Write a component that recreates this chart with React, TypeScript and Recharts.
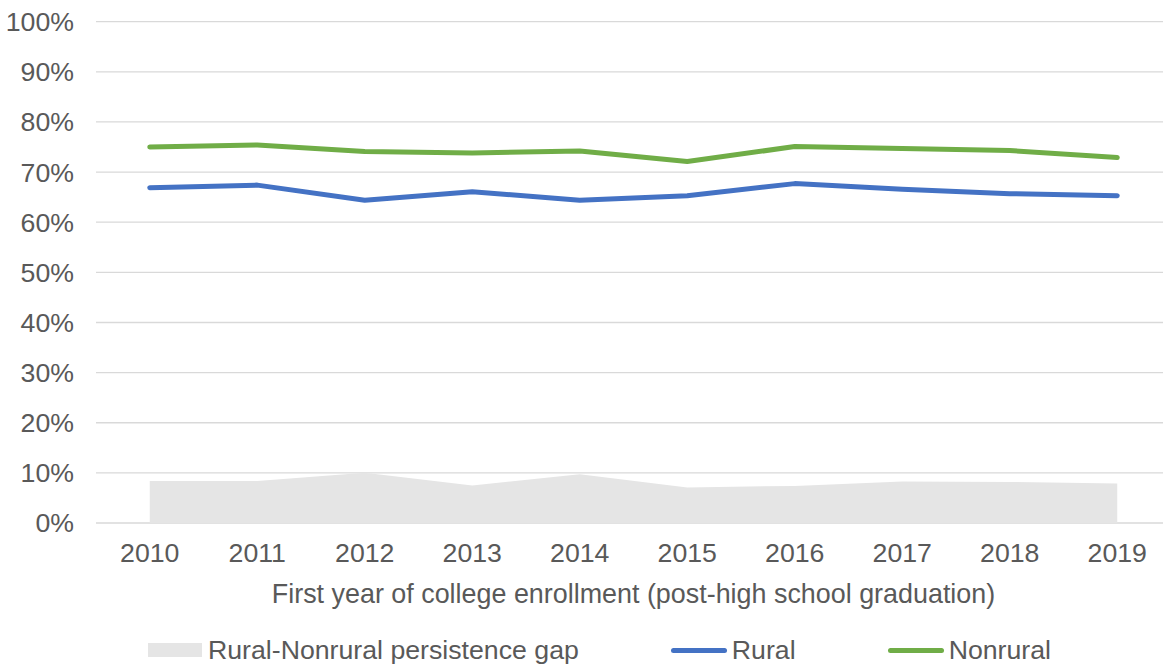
import React from 'react';
import { ComposedChart, Area, Line, XAxis, YAxis, CartesianGrid, Legend } from 'recharts';

const years = ['2010', '2011', '2012', '2013', '2014', '2015', '2016', '2017', '2018', '2019'];
const rural = [66.9, 67.4, 64.4, 66.1, 64.4, 65.3, 67.7, 66.6, 65.7, 65.3];
const nonrural = [75.0, 75.4, 74.1, 73.8, 74.2, 72.1, 75.1, 74.7, 74.3, 72.9];
const gap = [8.4, 8.4, 10.0, 7.5, 9.7, 7.1, 7.4, 8.3, 8.2, 7.9];
const yTicks = [0, 10, 20, 30, 40, 50, 60, 70, 80, 90, 100];

const data = years.map((y, i) => ({ year: y, gap: gap[i], rural: rural[i], nonrural: nonrural[i] }));

const FONT = '"Liberation Sans", Arial, sans-serif';
const FS = 26.7;
const TEXT = '#595959';
const BLUE = '#4472C4';
const GREEN = '#70AD47';
const GRAY = '#E5E5E5';

const legendItems = [
  { label: 'Rural-Nonrural persistence gap', kind: 'rect', color: GRAY },
  { label: 'Rural', kind: 'line', color: BLUE },
  { label: 'Nonrural', kind: 'line', color: GREEN },
];

const renderLegend = () => (
  <div
    style={{
      height: 62,
      boxSizing: 'border-box',
      paddingTop: 32,
      paddingLeft: 148,
      display: 'flex',
      alignItems: 'center',
      fontFamily: FONT,
      fontSize: FS,
      color: TEXT,
      gap: 92,
    }}
  >
    {legendItems.map((it) => (
      <div key={it.label} style={{ display: 'flex', alignItems: 'center', height: 30, whiteSpace: 'nowrap' }}>
        {it.kind === 'rect' ? (
          <div style={{ width: 54, height: 14, background: it.color, marginRight: 6 }} />
        ) : (
          <div style={{ width: 56, height: 5, borderRadius: 3, background: it.color, marginRight: 5 }} />
        )}
        <span style={{ lineHeight: '30px' }}>{it.label}</span>
      </div>
    ))}
  </div>
);

const axisTitle = (props: any) => {
  const vb = props.viewBox || {};
  return (
    <text
      x={vb.x + vb.width / 2}
      y={602.5}
      textAnchor="middle"
      fill={TEXT}
      fontSize={26.9}
      fontFamily={FONT}
    >
      First year of college enrollment (post-high school graduation)
    </text>
  );
};

export default function App() {
  return (
    <div style={{ position: 'absolute', left: 0, top: 0, width: 1163, height: 665, overflow: 'hidden', background: '#fff' }}>
      <ComposedChart
        width={1171}
        height={665}
        data={data}
        margin={{ top: 21.7, right: 0, bottom: 0, left: 0 }}
      >
        <CartesianGrid vertical={false} stroke="#D9D9D9" strokeWidth={1.3} />
        <XAxis
          dataKey="year"
          axisLine={false}
          tickLine={false}
          tickSize={0}
          tickMargin={20}
          height={80}
          interval={0}
          padding={{ left: 53.75, right: 53.75 }}
          tick={{ fill: TEXT, fontSize: FS, fontFamily: FONT }}
          label={axisTitle}
        />
        <YAxis
          domain={[0, 100]}
          ticks={yTicks}
          interval={0}
          width={96}
          axisLine={false}
          tickLine={false}
          tickSize={0}
          tickMargin={22}
          tickFormatter={(v: number) => `${v}%`}
          tick={{ fill: TEXT, fontSize: FS, fontFamily: FONT }}
        />
        <Legend verticalAlign="bottom" height={62} content={renderLegend} wrapperStyle={{ left: 0, width: 1171 }} />
        <Area
          type="linear"
          dataKey="gap"
          name="Rural-Nonrural persistence gap"
          fill={GRAY}
          fillOpacity={1}
          stroke="none"
          isAnimationActive={false}
          dot={false}
          activeDot={false}
        />
        <Line
          type="linear"
          dataKey="rural"
          name="Rural"
          stroke={BLUE}
          strokeWidth={5}
          strokeLinecap="round"
          strokeLinejoin="round"
          dot={false}
          activeDot={false}
          isAnimationActive={false}
        />
        <Line
          type="linear"
          dataKey="nonrural"
          name="Nonrural"
          stroke={GREEN}
          strokeWidth={5}
          strokeLinecap="round"
          strokeLinejoin="round"
          dot={false}
          activeDot={false}
          isAnimationActive={false}
        />
      </ComposedChart>
    </div>
  );
}
